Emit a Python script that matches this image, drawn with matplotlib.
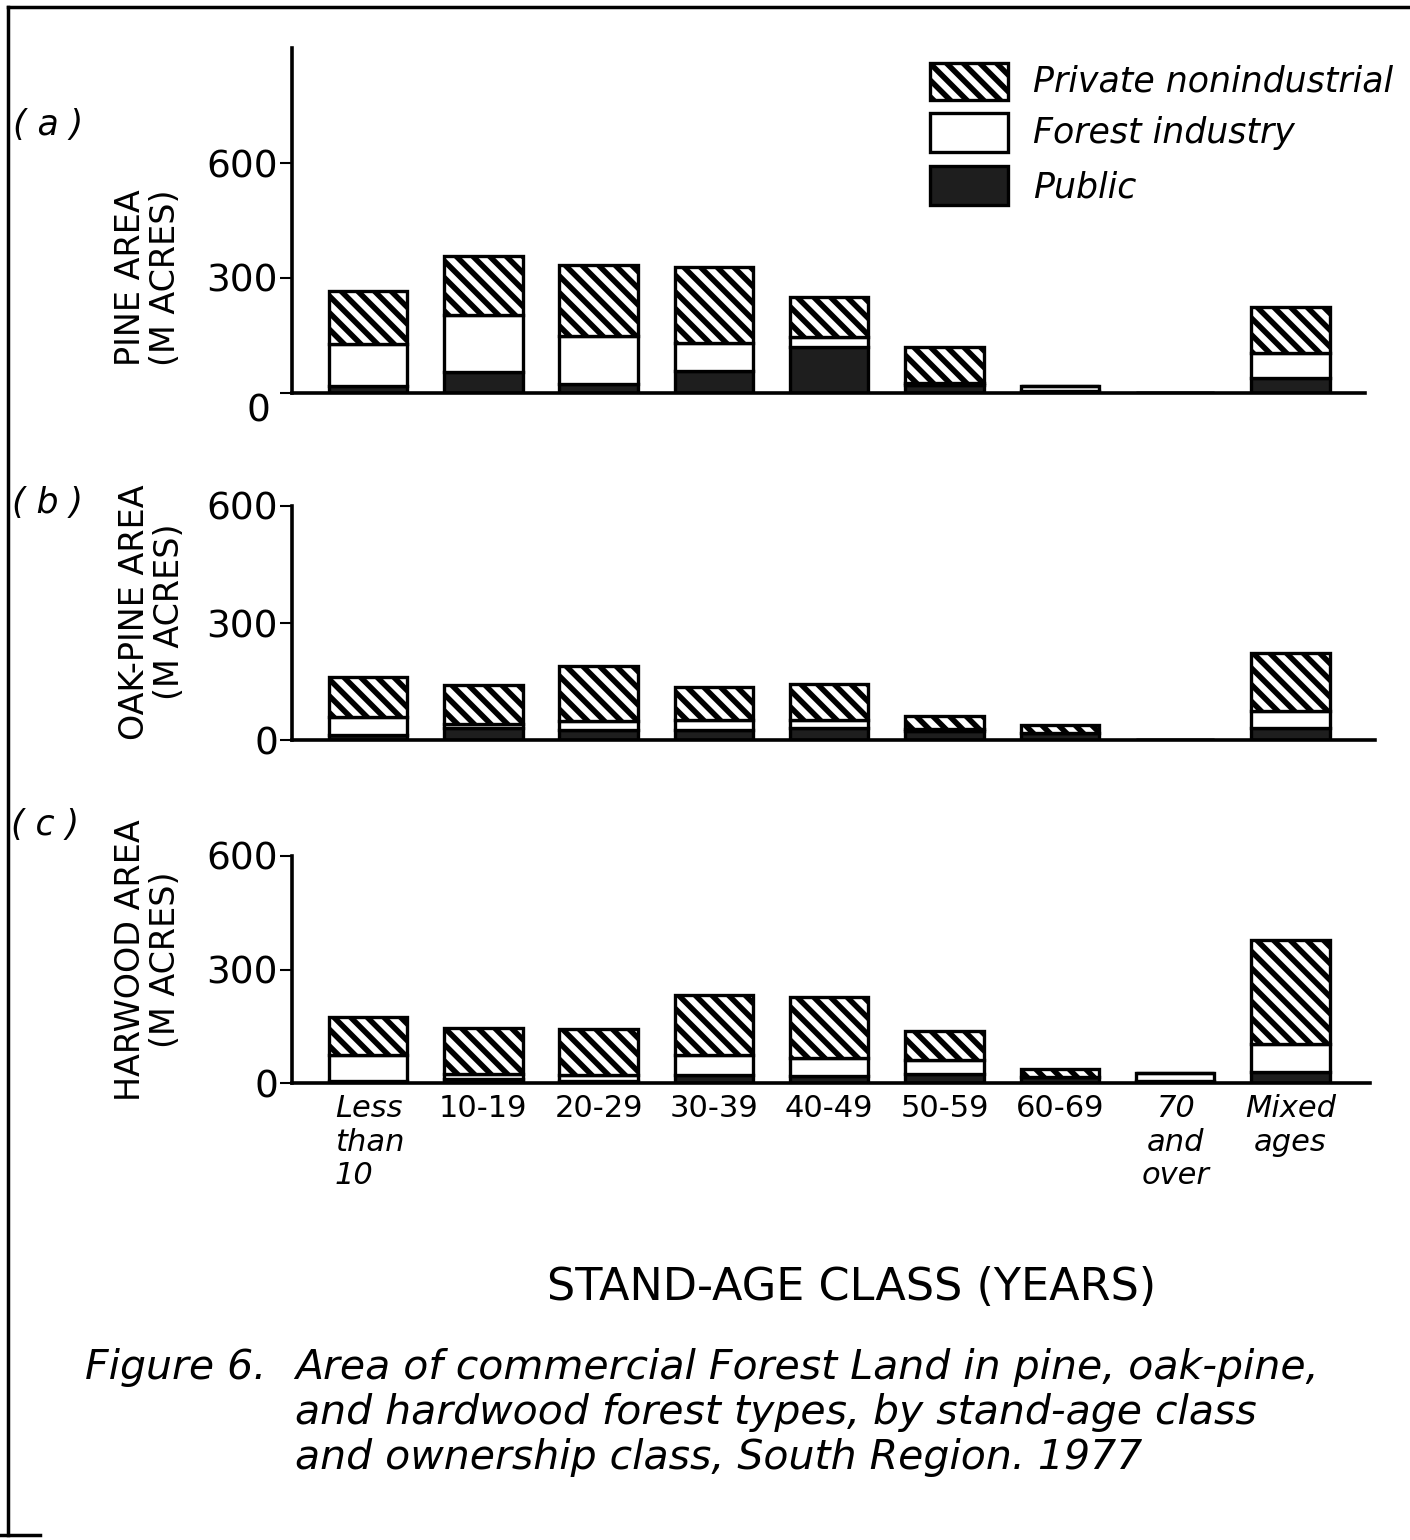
import matplotlib
matplotlib.use("Agg")
import matplotlib.pyplot as plt
import numpy as np
from matplotlib.patches import Rectangle
from matplotlib.lines import Line2D
import matplotlib.transforms as mtransforms

# ---------------- data ----------------
categories = ["Less\nthan\n10", "10-19", "20-29", "30-39", "40-49",
              "50-59", "60-69", "70\nand\nover", "Mixed\nages"]
series_names = ["Private nonindustrial", "Forest industry", "Public"]

# Panel (a) pine (thousand acres)
pine_public = [18, 54, 23, 58, 121, 20, 6, 0, 38]
pine_forest_industry = [110, 149, 126, 73, 24, 7, 13, 0, 66]
pine_private = [139, 155, 185, 197, 106, 94, 0, 0, 121]

# Panel (b) oak-pine
oakpine_public = [13, 32, 25, 25, 30, 22, 18, 0, 32]
oakpine_forest_industry = [45, 10, 24, 26, 21, 6, 0, 0, 43]
oakpine_private = [103, 100, 142, 85, 93, 33, 20, 0, 147]

# Panel (c) hardwood
hard_public = [6, 10, 6, 21, 18, 24, 15, 5, 30]
hard_forest_industry = [67, 14, 15, 52, 47, 36, 0, 21, 73]
hard_private = [102, 121, 122, 159, 162, 78, 22, 0, 275]

ylabels = ["PINE AREA\n(M ACRES)", "OAK-PINE AREA\n(M ACRES)", "HARWOOD AREA\n(M ACRES)"]
panel_tags = ["( a )", "( b )", "( c )"]
yticks = [0, 300, 600]

# ---------------- styling ----------------
W, H = 1410, 1540
plt.rcParams["hatch.linewidth"] = 4.0
plt.rcParams["font.family"] = ["DejaVu Sans"]
fig = plt.figure(figsize=(W / 100, H / 100), dpi=100)

def fx(x):
    return x / W

def fy(y):
    return 1 - y / H

x0_px, step_px = 368.0, 115.3
bar_w = 0.68
dark = "#1e1e1e"
LW = 2.4
HATCH = "\\\\"

panels = [
    # left, right, top, bottom (px), ymax
    (292, 1365, 48, 393, 900, pine_public, pine_forest_industry, pine_private),
    (292, 1375, 506, 740, 600, oakpine_public, oakpine_forest_industry, oakpine_private),
    (292, 1370, 856, 1083, 600, hard_public, hard_forest_industry, hard_private),
]

x = np.arange(len(categories))
axes = []
for i, (l, r, t, b, ymax, pub, fi, pri) in enumerate(panels):
    ax = fig.add_axes([fx(l), fy(b), (r - l) / W, (b - t) / H])
    axes.append(ax)
    pub = np.array(pub); fi = np.array(fi); pri = np.array(pri)
    ax.bar(x, pub, width=bar_w, color=dark, edgecolor="black", linewidth=LW, zorder=2)
    ax.bar(x, fi, width=bar_w, bottom=pub, color="white", edgecolor="black",
           linewidth=LW, zorder=2)
    ax.bar(x, pri, width=bar_w, bottom=pub + fi, color="white", edgecolor="black",
           hatch=HATCH, linewidth=LW, zorder=2)
    ax.set_xlim((l - x0_px) / step_px, (r - x0_px) / step_px)
    ax.set_ylim(0, ymax)
    for s in ["top", "right"]:
        ax.spines[s].set_visible(False)
    for s in ["left", "bottom"]:
        ax.spines[s].set_linewidth(2.6)
    ax.set_yticks(yticks)
    ax.set_yticklabels([str(v) for v in yticks], fontsize=27)
    ax.tick_params(axis="y", length=9, width=1.5, pad=1)
    ax.set_xticks(x)
    ax.tick_params(axis="x", length=0, pad=8)
    ax.patch.set_alpha(0)
    if i < 2:
        ax.set_xticklabels([])
    else:
        labs = ax.set_xticklabels(categories, fontsize=22, linespacing=1.2, va="top")
        for j, lab in enumerate(labs):
            lab.set_multialignment("center")
            if "\n" in categories[j]:
                lab.set_fontstyle("italic")
        first = labs[0]
        first.set_ha("left")
        first.set_multialignment("left")
        first.set_transform(first.get_transform() +
                            mtransforms.ScaledTranslation(-33 / 100, 0, fig.dpi_scale_trans))
    if i == 0:
        zl = ax.get_yticklabels()[0]
        zl.set_transform(zl.get_transform() +
                         mtransforms.ScaledTranslation(-8 / 100, -15 / 100, fig.dpi_scale_trans))

# y labels
ylab_pos = [(148, 278), (152, 612), (148, 960)]
for lab, (px, py) in zip(ylabels, ylab_pos):
    fig.text(fx(px), fy(py), lab, rotation=90, ha="center", va="center",
             multialignment="center", fontsize=24, linespacing=1.1)

# panel tags
tag_pos = [(48, 125), (47, 503), (45, 825)]
for tag, (px, py) in zip(panel_tags, tag_pos):
    fig.text(fx(px), fy(py), tag, ha="center", va="center", fontsize=25,
             fontstyle="italic")

# legend (manual)
leg_boxes = [(63, 100, "white", HATCH), (113, 152, "white", None), (166, 205, dark, None)]
leg_text_y = [82, 133, 188]
for (t, b, fc, hatch), name, ty in zip(leg_boxes, series_names, leg_text_y):
    rect = Rectangle((fx(930), fy(b)), 78 / W, (b - t) / H, transform=fig.transFigure,
                     facecolor=fc, edgecolor="black", linewidth=LW, hatch=hatch)
    fig.add_artist(rect)
    fig.text(fx(1033), fy(ty), name, ha="left", va="center", fontsize=25,
             fontstyle="italic")

# x axis title
fig.text(fx(852), fy(1288), "STAND-AGE CLASS (YEARS)", ha="center", va="center",
         fontsize=32)

# caption
fig.text(fx(85), fy(1348), "Figure 6.", ha="left", va="top", fontsize=29.5,
         fontstyle="italic")
fig.text(fx(295), fy(1348),
         "Area of commercial Forest Land in pine, oak-pine,\n"
         "and hardwood forest types, by stand-age class\n"
         "and ownership class, South Region. 1977",
         ha="left", va="top", fontsize=29.5, fontstyle="italic", linespacing=1.2)

# border
fig.add_artist(Line2D([fx(8), fx(1410)], [fy(7), fy(7)], transform=fig.transFigure,
                      color="black", linewidth=2.5))
fig.add_artist(Line2D([fx(8), fx(8)], [fy(7), fy(1535)], transform=fig.transFigure,
                      color="black", linewidth=2.5))
fig.add_artist(Line2D([fx(0), fx(40)], [fy(1535), fy(1535)], transform=fig.transFigure,
                      color="black", linewidth=2.5))

fig.savefig("out.png", dpi=100, facecolor="white")
